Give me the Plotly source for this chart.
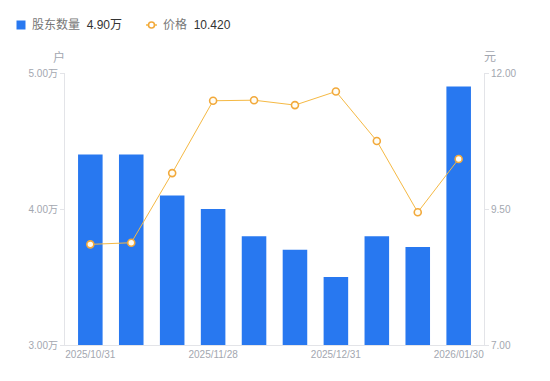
import plotly.graph_objects as go

dates = ["2025/10/31", "2025/11/10", "2025/11/20", "2025/11/28", "2025/12/10",
         "2025/12/19", "2025/12/31", "2026/01/09", "2026/01/20", "2026/01/30"]
holders = [4.40, 4.40, 4.10, 4.00, 3.80, 3.70, 3.50, 3.80, 3.72, 4.90]  # 万户
price = [8.85, 8.88, 10.16, 11.49, 11.50, 11.41, 11.66, 10.75, 9.44, 10.42]
tick_dates = [dates[0], dates[3], dates[6], dates[9]]
left_ticks = [3.0, 4.0, 5.0]
left_labels = ["3.00万", "4.00万", "5.00万"]
right_ticks = [7.0, 9.5, 12.0]
right_labels = ["7.00", "9.50", "12.00"]
legend_holder = "4.90万"
legend_price = "10.420"

FONT = "Liberation Sans, Noto Sans CJK SC, sans-serif"
GRAY = "#a3a7b0"
AXIS = "#e3e4e8"
BLUE = "#2878f0"
LINE = "#f5b944"
MARK = "#f2a93b"

fig = go.Figure()
fig.add_trace(go.Bar(
    x=dates, y=holders, name="股东数量",
    marker=dict(color=BLUE, line=dict(width=0)), width=0.6, yaxis="y",
))
fig.add_trace(go.Scatter(
    x=dates, y=price, name="价格",
    mode="lines+markers", yaxis="y2",
    line=dict(color=LINE, width=1),
    marker=dict(symbol="circle", size=7, color="#fffdf5",
                line=dict(color=MARK, width=1.6)),
))

# page body has an 8px margin: figure is drawn 8px in from the window edge
OFF = 8
W, H = 550 - OFF, 381 - OFF
ml, mr, mt, mb = 65 - OFF, 66, 73 - OFF, 36
pw, ph = W - ml - mr, H - mt - mb
def px(x):
    return (x - OFF - ml) / pw
def py(y):
    return (H - mb - (y - OFF)) / ph

shapes = [
    dict(type="rect", xref="paper", yref="paper", x0=px(16.5), x1=px(25.5),
         y0=py(29.5), y1=py(20.5), fillcolor=BLUE, line=dict(width=0)),
    dict(type="line", xref="paper", yref="paper", x0=px(146), x1=px(157),
         y0=py(25), y1=py(25), line=dict(color=LINE, width=1.5)),
    dict(type="circle", xref="paper", yref="paper", x0=px(148.5), x1=px(154.5),
         y0=py(28), y1=py(22), fillcolor="white", line=dict(color=MARK, width=1.6)),
]
annotations = [
    dict(text="股东数量  <span style='color:#333'>" + legend_holder + "</span>",
         xref="paper", yref="paper", x=px(30), y=py(25), xanchor="left", yanchor="middle",
         showarrow=False, font=dict(size=12, color="#777")),
    dict(text="价格  <span style='color:#333'>" + legend_price + "</span>",
         xref="paper", yref="paper", x=px(161), y=py(25), xanchor="left", yanchor="middle",
         showarrow=False, font=dict(size=12, color="#777")),
    dict(text="户", xref="paper", yref="paper", x=px(59), y=py(57),
         xanchor="center", yanchor="middle", showarrow=False,
         font=dict(size=12, color=GRAY)),
    dict(text="元", xref="paper", yref="paper", x=px(490), y=py(57),
         xanchor="center", yanchor="middle", showarrow=False,
         font=dict(size=12, color=GRAY)),
]

fig.update_layout(
    width=W, height=H,
    margin=dict(l=ml, r=mr, t=mt, b=mb, autoexpand=False),
    paper_bgcolor="white", plot_bgcolor="white",
    font=dict(family=FONT, size=10, color=GRAY),
    showlegend=False,
    bargap=0.4,
    xaxis=dict(type="category", tickmode="array", tickvals=tick_dates, ticktext=tick_dates,
               showline=True, linecolor=AXIS, linewidth=1, ticks="", showgrid=False,
               tickfont=dict(size=10, color=GRAY), zeroline=False, automargin=False),
    yaxis=dict(range=[3, 5], tickmode="array", tickvals=left_ticks, ticktext=left_labels,
               showline=True, linecolor=AXIS, linewidth=1, ticks="outside", ticklen=4,
               tickcolor=AXIS, showgrid=False, zeroline=False, automargin=False,
               tickfont=dict(size=10, color=GRAY)),
    yaxis2=dict(range=[7, 12], overlaying="y", side="right", tickmode="array",
                tickvals=right_ticks, ticktext=right_labels,
                showline=True, linecolor=AXIS, linewidth=1, ticks="outside", ticklen=4,
                tickcolor=AXIS, showgrid=False, zeroline=False, automargin=False,
                tickfont=dict(size=10, color=GRAY)),
    shapes=shapes,
    annotations=annotations,
)

fig.write_html("out.html")
